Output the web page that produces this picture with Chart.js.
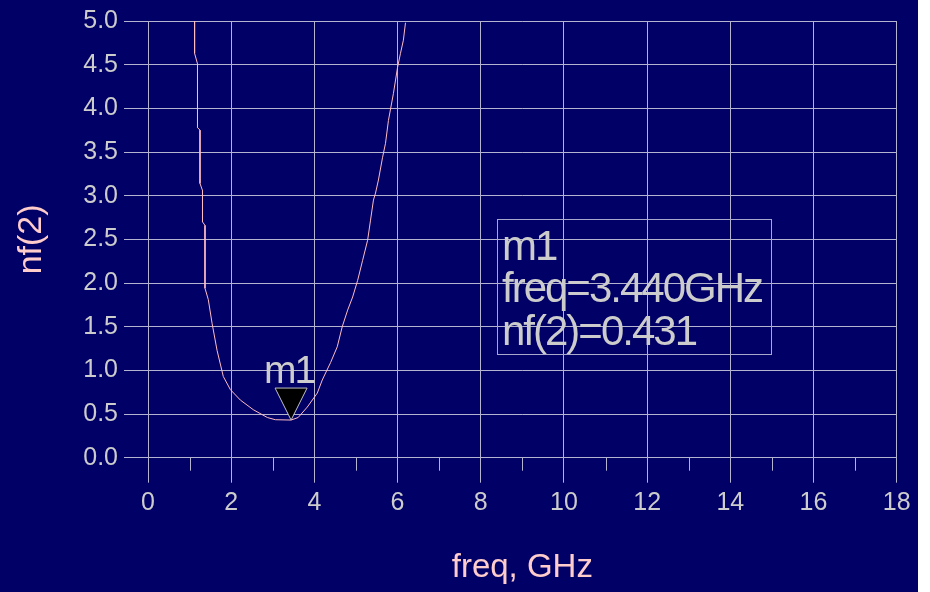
<!DOCTYPE html>
<html>
<head>
<meta charset="utf-8">
<script src="https://cdn.jsdelivr.net/npm/chart.js@4.4.0/dist/chart.umd.min.js"></script>
<style>
  html, body { margin: 0; padding: 0; background: #ffffff; }
  #wrap { width: 930px; height: 592px; }
</style>
</head>
<body>
<div id="wrap"><canvas id="nfChart" width="930" height="592"></canvas></div>
<script>
// Noise figure nf(2) sweep versus frequency (GHz)
const freqGHz = [1.12, 1.12, 1.19, 1.19, 1.25, 1.25, 1.31, 1.31, 1.37, 1.37, 1.45, 1.54, 1.66, 1.81,
                 1.98, 2.22, 2.53, 2.87, 3.06, 3.44, 3.61, 3.83, 4.07, 4.19, 4.39, 4.55, 4.67, 4.80,
                 4.92, 5.04, 5.16, 5.28, 5.35, 5.42, 5.47, 5.54, 5.64, 5.71, 5.78, 5.90, 6.00, 6.07,
                 6.14, 6.19];
const nf2 = [5.00, 4.63, 4.51, 3.78, 3.75, 3.14, 3.06, 2.70, 2.66, 1.94, 1.81, 1.54, 1.23, 0.93,
             0.78, 0.66, 0.55, 0.46, 0.435, 0.431, 0.46, 0.58, 0.74, 0.89, 1.09, 1.27, 1.50, 1.69,
             1.84, 2.03, 2.26, 2.49, 2.72, 2.95, 3.03, 3.18, 3.44, 3.60, 3.86, 4.17, 4.47, 4.63,
             4.78, 4.98];

// Marker m1
const markerName = 'm1';
const markerFreq = 3.440;
const markerNf = 0.431;

// Axis ranges
const xRange = [0, 18];
const yRange = [0, 5];

const FONT = '"Liberation Sans", Arial, sans-serif';
const NAVY = '#000066';
const GRID = '#b4b4d0';
const TEXT = '#cccccc';
const PINK = '#ffcccc';

const points = freqGHz.map((f, i) => ({ x: f, y: nf2[i] }));

const backdrop = {
  id: 'backdrop',
  beforeDraw(chart) {
    const ctx = chart.ctx;
    ctx.save();
    ctx.fillStyle = '#ffffff';
    ctx.fillRect(0, 0, chart.width, chart.height);
    ctx.fillStyle = NAVY;
    ctx.fillRect(0, 0, 918, chart.height);
    ctx.restore();
  }
};

// short ticks at the odd GHz values between the labelled ones
const minorTicks = {
  id: 'minorTicks',
  afterDraw(chart) {
    const xs = chart.scales.x;
    const ctx = chart.ctx;
    const y0 = chart.chartArea.bottom;
    ctx.save();
    ctx.strokeStyle = GRID;
    ctx.lineWidth = 1;
    ctx.beginPath();
    for (let v = xRange[0] + 1; v < xRange[1]; v += 2) {
      const px = Math.round(xs.getPixelForValue(v)) + 0.5;
      ctx.moveTo(px, y0);
      ctx.lineTo(px, y0 + 13);
    }
    ctx.stroke();
    ctx.restore();
  }
};

// marker triangle with its name, plus the readout box
const markerReadout = {
  id: 'markerReadout',
  afterDraw(chart) {
    const ctx = chart.ctx;
    const px = chart.scales.x.getPixelForValue(markerFreq);
    const py = chart.scales.y.getPixelForValue(markerNf);
    ctx.save();
    ctx.beginPath();
    ctx.moveTo(px, py);
    ctx.lineTo(px - 16, py - 32);
    ctx.lineTo(px + 16, py - 32);
    ctx.closePath();
    ctx.fillStyle = '#000000';
    ctx.fill();
    ctx.strokeStyle = '#c0c0c0';
    ctx.lineWidth = 1;
    ctx.stroke();

    ctx.fillStyle = TEXT;
    ctx.font = '39px ' + FONT;
    ctx.letterSpacing = '-2px';
    ctx.textAlign = 'center';
    ctx.textBaseline = 'alphabetic';
    ctx.fillText(markerName, px - 2, py - 37);

    // readout box
    ctx.strokeStyle = '#a8a8cc';
    ctx.strokeRect(497.5, 219.5, 274, 135);
    ctx.font = '42px ' + FONT;
    ctx.letterSpacing = '-2px';
    ctx.textAlign = 'left';
    ctx.fillText(markerName, 502, 260);
    ctx.fillText('freq=' + markerFreq.toFixed(3) + 'GHz', 502, 302);
    ctx.fillText('nf(2)=' + markerNf.toFixed(3), 502, 345);
    ctx.restore();
  }
};

new Chart(document.getElementById('nfChart'), {
  type: 'line',
  data: {
    datasets: [{
      label: 'nf(2)',
      data: points,
      borderColor: '#ffbcc4',
      borderWidth: 1,
      pointRadius: 0,
      tension: 0,
      fill: false
    }]
  },
  options: {
    responsive: false,
    animation: false,
    devicePixelRatio: 1,
    layout: { padding: { top: 20.7, right: 33.3, left: 0, bottom: 0 } },
    plugins: { legend: { display: false }, tooltip: { enabled: false } },
    scales: {
      x: {
        type: 'linear',
        min: xRange[0],
        max: xRange[1],
        afterFit(scale) { scale.height = 134.3; },
        ticks: {
          stepSize: 2,
          padding: 5,
          color: TEXT,
          font: { family: FONT, size: 25 },
          maxRotation: 0,
          callback: v => String(v)
        },
        grid: { color: GRID, lineWidth: 1, tickLength: 25, tickColor: GRID },
        border: { color: GRID, width: 1 },
        title: {
          display: true,
          text: 'freq, GHz',
          color: PINK,
          font: { family: FONT, size: 33 },
          padding: { top: 0, bottom: 4 }
        }
      },
      y: {
        type: 'linear',
        min: yRange[0],
        max: yRange[1],
        afterFit(scale) { scale.width = 148; },
        ticks: {
          stepSize: 0.5,
          padding: 6,
          color: TEXT,
          font: { family: FONT, size: 25 },
          callback: v => Number(v).toFixed(1)
        },
        grid: { color: GRID, lineWidth: 1, tickLength: 24, tickColor: GRID },
        border: { color: GRID, width: 1 },
        title: {
          display: true,
          text: 'nf(2)',
          color: PINK,
          font: { family: FONT, size: 34 },
          padding: { top: 11, bottom: 0 }
        }
      }
    }
  },
  plugins: [backdrop, minorTicks, markerReadout]
});
</script>
</body>
</html>
